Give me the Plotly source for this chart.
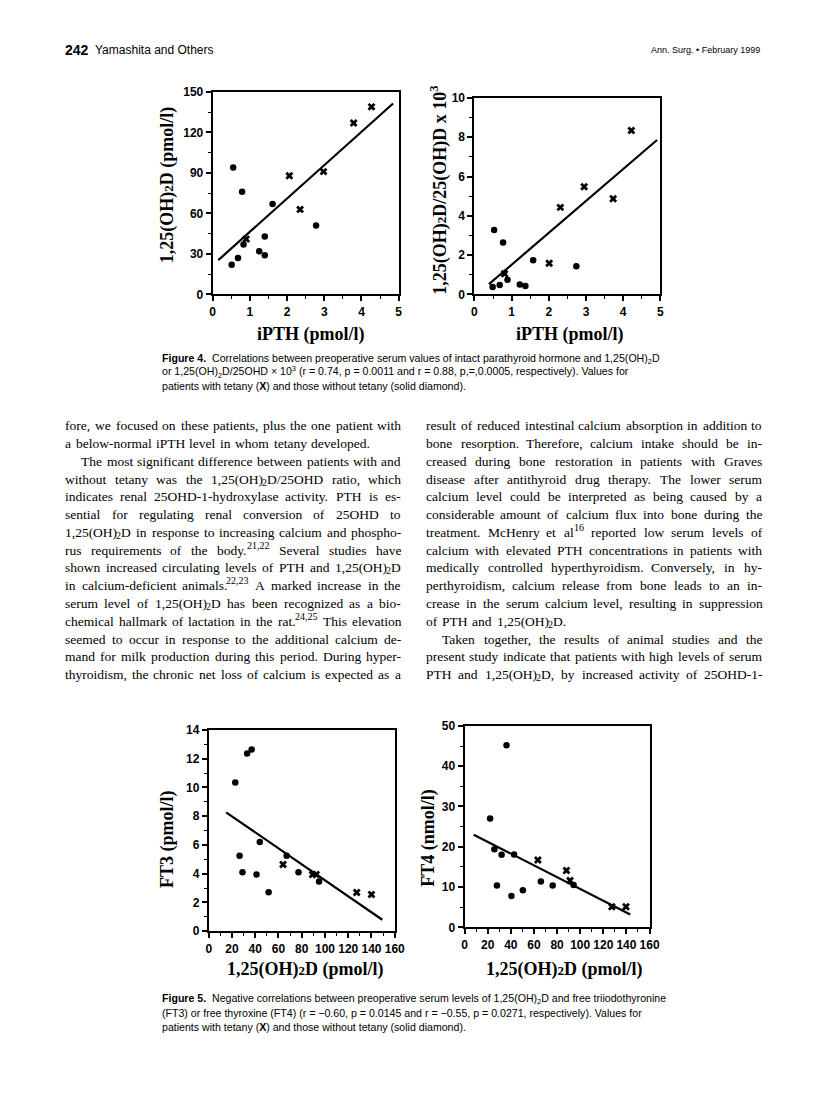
import re
import plotly.graph_objects as go

W, H = 816, 1115
PAGE_OFF = 8  # the html body margin moves the figure by 8px

# ---------------- data ----------------
# Figure 4 left: iPTH (pmol/l) vs 1,25(OH)2D (pmol/l)
f4a_dot_x = [0.51, 0.55, 0.68, 0.79, 0.83, 1.25, 1.40, 1.40, 1.61, 2.78]
f4a_dot_y = [22, 94, 27, 76, 37, 32, 43, 29, 67, 51]
f4a_tet_x = [0.90, 2.06, 2.35, 2.98, 3.79, 4.27]
f4a_tet_y = [41, 88, 63, 91, 127, 139]
f4a_fit_x = [0.15, 4.85]
f4a_fit_y = [25.4, 141.5]

# Figure 4 right: iPTH (pmol/l) vs 1,25(OH)2D/25(OH)D x 10^3
f4b_dot_x = [0.49, 0.53, 0.68, 0.77, 0.89, 1.22, 1.37, 1.58, 2.74]
f4b_dot_y = [0.38, 3.28, 0.48, 2.64, 0.75, 0.50, 0.43, 1.74, 1.44]
f4b_tet_x = [0.81, 2.01, 2.31, 2.95, 3.73, 4.22]
f4b_tet_y = [1.05, 1.59, 4.43, 5.48, 4.87, 8.34]
f4b_fit_x = [0.39, 4.91]
f4b_fit_y = [0.52, 7.86]

# Figure 5 left: 1,25(OH)2D (pmol/l) vs FT3 (pmol/l)
f5a_dot_x = [22.8, 26.5, 29.0, 33.0, 36.9, 41.1, 43.9, 51.5, 67.0, 77.2, 94.9]
f5a_dot_y = [10.34, 5.25, 4.11, 12.35, 12.63, 3.95, 6.21, 2.72, 5.25, 4.11, 3.45]
f5a_tet_x = [63.9, 89.3, 92.4, 127.3, 140.0]
f5a_tet_y = [4.64, 3.95, 3.95, 2.69, 2.56]
f5a_fit_x = [14.9, 149.3]
f5a_fit_y = [8.27, 0.80]

# Figure 5 right: 1,25(OH)2D (pmol/l) vs FT4 (nmol/l)
f5b_dot_x = [22.1, 25.8, 28.0, 32.0, 36.3, 40.5, 42.8, 50.4, 66.0, 76.2, 94.3]
f5b_dot_y = [27.0, 19.4, 10.4, 18.0, 45.2, 7.8, 18.1, 9.2, 11.4, 10.4, 10.5]
f5b_tet_x = [63.4, 88.1, 91.2, 127.4, 139.6]
f5b_tet_y = [16.7, 14.1, 11.6, 5.1, 5.1]
f5b_fit_x = [7.9, 143.3]
f5b_fit_y = [23.0, 3.2]

# ---------------- page text ----------------
header_left_num = "242"
header_left = "Yamashita and Others"
header_right = "Ann. Surg. • February 1999"

cap4 = [
    "<b>Figure 4.</b>  Correlations between preoperative serum values of intact parathyroid hormone and 1,25(OH)<sub>2</sub>D",
    "or 1,25(OH)<sub>2</sub>D/25OHD × 10<sup>3</sup> (r = 0.74, p = 0.0011 and r = 0.88, p,=,0.0005, respectively). Values for",
    "patients with tetany (<b>X</b>) and those without tetany (solid diamond).",
]
cap5 = [
    "<b>Figure 5.</b>  Negative correlations between preoperative serum levels of 1,25(OH)<sub>2</sub>D and free triiodothyronine",
    "(FT3) or free thyroxine (FT4) (r = −0.60, p = 0.0145 and r = −0.55, p = 0.0271, respectively). Values for",
    "patients with tetany (<b>X</b>) and those without tetany (solid diamond).",
]

# (text, justified, indented)
left_col = [
    ("fore, we focused on these patients, plus the one patient with", True, False),
    ("a below-normal iPTH level in whom tetany developed.", False, False),
    ("The most significant difference between patients with and", True, True),
    ("without tetany was the 1,25(OH)<sub>2</sub>D/25OHD ratio, which", True, False),
    ("indicates renal 25OHD-1-hydroxylase activity. PTH is es-", True, False),
    ("sential for regulating renal conversion of 25OHD to", True, False),
    ("1,25(OH)<sub>2</sub>D in response to increasing calcium and phospho-", True, False),
    ("rus requirements of the body.<sup>21,22</sup> Several studies have", True, False),
    ("shown increased circulating levels of PTH and 1,25(OH)<sub>2</sub>D", True, False),
    ("in calcium-deficient animals.<sup>22,23</sup> A marked increase in the", True, False),
    ("serum level of 1,25(OH)<sub>2</sub>D has been recognized as a bio-", True, False),
    ("chemical hallmark of lactation in the rat.<sup>24,25</sup> This elevation", True, False),
    ("seemed to occur in response to the additional calcium de-", True, False),
    ("mand for milk production during this period. During hyper-", True, False),
    ("thyroidism, the chronic net loss of calcium is expected as a", True, False),
]
right_col = [
    ("result of reduced intestinal calcium absorption in addition to", True, False),
    ("bone resorption. Therefore, calcium intake should be in-", True, False),
    ("creased during bone restoration in patients with Graves", True, False),
    ("disease after antithyroid drug therapy. The lower serum", True, False),
    ("calcium level could be interpreted as being caused by a", True, False),
    ("considerable amount of calcium flux into bone during the", True, False),
    ("treatment. McHenry et al<sup>16</sup> reported low serum levels of", True, False),
    ("calcium with elevated PTH concentrations in patients with", True, False),
    ("medically controlled hyperthyroidism. Conversely, in hy-", True, False),
    ("perthyroidism, calcium release from bone leads to an in-", True, False),
    ("crease in the serum calcium level, resulting in suppression", True, False),
    ("of PTH and 1,25(OH)<sub>2</sub>D.", False, False),
    ("Taken together, the results of animal studies and the", True, True),
    ("present study indicate that patients with high levels of serum", True, False),
    ("PTH and 1,25(OH)<sub>2</sub>D, by increased activity of 25OHD-1-", True, False),
]

FW, FH = W - PAGE_OFF, H - PAGE_OFF


def px(x):
    return (x - PAGE_OFF) / FW


def py(y):
    return 1 - (y - PAGE_OFF) / FH


# approximate Times glyph widths (1/1000 em), used to justify the body text
TW = {' ': 250, ',': 250, '.': 250, '-': 333, '(': 333, ')': 333, '/': 278, ':': 278}
TW.update({c: w for c, w in zip("abcdefghijklmnopqrstuvwxyz",
          [444, 500, 444, 500, 444, 333, 500, 500, 278, 278, 500, 278, 778, 500, 500, 500, 500, 333, 389, 278, 500, 500, 722, 500, 500, 444])})
TW.update({c: w for c, w in zip("ABCDEFGHIJKLMNOPQRSTUVWXYZ",
          [722, 667, 667, 722, 611, 556, 722, 722, 333, 389, 722, 611, 889, 722, 722, 556, 722, 667, 556, 611, 722, 722, 944, 722, 722, 611])})

BODY = dict(family="Liberation Serif", size=13.5, color="black")
SMALL = dict(family="Liberation Serif", size=10, color="black")
SANS = dict(family="Liberation Sans", color="black")


def plain_w(s, size):
    return sum(TW.get(c, 500) for c in s) * size / 1000.0


def segments(word):
    # split a word into (text, kind) pieces: kind is "", "sub" or "sup"
    out = []
    for m in re.finditer(r"<(sub|sup)>(.*?)</\1>|([^<]+)", word):
        if m.group(3):
            out.append((m.group(3), ""))
        else:
            out.append((m.group(2), m.group(1)))
    return out


def word_w(word):
    return sum(plain_w(t, SMALL["size"] if k else BODY["size"]) for t, k in segments(word))


annotations = []


def note(x, y, text, font, xanchor="left", angle=0):
    annotations.append(dict(x=px(x), y=py(y), xref="paper", yref="paper", text=text,
                            showarrow=False, xanchor=xanchor, yanchor="middle",
                            font=font, textangle=angle, borderpad=0))


def draw_word(x, y, word):
    for t, k in segments(word):
        if k == "":
            note(x, y, t, BODY)
            x += plain_w(t, BODY["size"])
        else:
            note(x, y + (3 if k == "sub" else -5), t, SMALL)
            x += plain_w(t, SMALL["size"])


def body_line(x0, x1, y, text, justify, indent):
    start = x0 + (16 if indent else 0)
    words = text.split()
    widths = [word_w(w) for w in words]
    if justify and len(words) > 1:
        gap = (x1 - start - sum(widths)) / (len(words) - 1)
    else:
        gap = plain_w(" ", BODY["size"]) * 1.5
    x = start
    for w, ww in zip(words, widths):
        draw_word(x, y, w)
        x += ww + gap


# header
note(62, 43, "<b>" + header_left_num + "</b>", dict(SANS, size=14))
note(92, 43, header_left, dict(SANS, size=12))
note(770, 43, header_right, dict(SANS, size=9), xanchor="right")

# captions
for i, t in enumerate(cap4):
    note(160, 356 + 14 * i, t, dict(SANS, size=10.6))
for i, t in enumerate(cap5):
    note(160, 1005 + 14 * i, t, dict(SANS, size=10.6))

# body columns
for i, (t, j, ind) in enumerate(left_col):
    body_line(62, 403, 424 + 18 * i, t, j, ind)
for i, (t, j, ind) in enumerate(right_col):
    body_line(429, 770, 424 + 18 * i, t, j, ind)

# ---------------- panels ----------------
SUB2 = "<span style='font-size:13px'>2</span>"
panels = [
    dict(box=(213, 86, 402, 291), xr=[0, 5], yr=[0, 150], xd=1, yd=30, xm=0.5, ym=15,
         dots=(f4a_dot_x, f4a_dot_y), tet=(f4a_tet_x, f4a_tet_y), fit=(f4a_fit_x, f4a_fit_y),
         xt="iPTH (pmol/l)", xt_pos=(313, 332), yt="1,25(OH)" + SUB2 + "D (pmol/l)", yt_pos=(167, 180)),
    dict(box=(479, 92, 668, 291), xr=[0, 5], yr=[0, 10], xd=1, yd=2, xm=0.5, ym=1,
         dots=(f4b_dot_x, f4b_dot_y), tet=(f4b_tet_x, f4b_tet_y), fit=(f4b_fit_x, f4b_fit_y),
         xt="iPTH (pmol/l)", xt_pos=(576, 332),
         yt="1,25(OH)" + SUB2 + "D/25(OH)D x 10<sup>3</sup>", yt_pos=(443, 186)),
    dict(box=(209, 732, 398, 936), xr=[0, 160], yr=[0, 14], xd=20, yd=2, xm=10, ym=1,
         dots=(f5a_dot_x, f5a_dot_y), tet=(f5a_tet_x, f5a_tet_y), fit=(f5a_fit_x, f5a_fit_y),
         xt="1,25(OH)" + SUB2 + "D (pmol/l)", xt_pos=(307, 975), yt="FT3 (pmol/l)", yt_pos=(167, 842)),
    dict(box=(469, 728, 657, 932), xr=[0, 160], yr=[0, 50], xd=20, yd=10, xm=10, ym=5,
         dots=(f5b_dot_x, f5b_dot_y), tet=(f5b_tet_x, f5b_tet_y), fit=(f5b_fit_x, f5b_fit_y),
         xt="1,25(OH)" + SUB2 + "D (pmol/l)", xt_pos=(571, 975), yt="FT4 (nmol/l)", yt_pos=(432, 841)),
]

TITLE = dict(family="Liberation Serif", size=18, color="black", weight="bold")
TICK = dict(family="Liberation Sans", size=12, color="black", weight="bold")

fig = go.Figure()
layout_axes = {}
for k, p in enumerate(panels, start=1):
    xa = "x" if k == 1 else "x%d" % k
    ya = "y" if k == 1 else "y%d" % k
    x0, y0, x1, y1 = p["box"]
    common = dict(showline=True, linecolor="black", linewidth=2, mirror=True,
                  ticks="outside", ticklen=5, tickwidth=1.5, tickcolor="black",
                  showgrid=False, zeroline=False, tickfont=TICK, fixedrange=True)
    layout_axes["xaxis" if k == 1 else "xaxis%d" % k] = dict(
        common, domain=[px(x0), px(x1)], range=p["xr"], dtick=p["xd"], tick0=0, anchor=ya,
        minor=dict(ticks="outside", ticklen=3, tickwidth=1.2, tickcolor="black", dtick=p["xm"], showgrid=False))
    layout_axes["yaxis" if k == 1 else "yaxis%d" % k] = dict(
        common, domain=[py(y1), py(y0)], range=p["yr"], dtick=p["yd"], tick0=0, anchor=xa,
        minor=dict(ticks="outside", ticklen=3, tickwidth=1.2, tickcolor="black", dtick=p["ym"], showgrid=False))

    fig.add_trace(go.Scatter(x=p["fit"][0], y=p["fit"][1], mode="lines",
                             line=dict(color="black", width=2.2), xaxis=xa, yaxis=ya, showlegend=False))
    fig.add_trace(go.Scatter(x=p["dots"][0], y=p["dots"][1], mode="markers",
                             marker=dict(symbol="circle", size=6.5, color="black"),
                             xaxis=xa, yaxis=ya, showlegend=False, cliponaxis=False))
    fig.add_trace(go.Scatter(x=p["tet"][0], y=p["tet"][1], mode="markers",
                             marker=dict(symbol="x", size=7, color="black"),
                             xaxis=xa, yaxis=ya, showlegend=False, cliponaxis=False))

    note(p["xt_pos"][0], p["xt_pos"][1], p["xt"], TITLE, xanchor="center")
    note(p["yt_pos"][0], p["yt_pos"][1], p["yt"], TITLE, xanchor="center", angle=-90)

fig.update_layout(
    width=FW, height=FH,
    margin=dict(l=0, r=0, t=0, b=0),
    paper_bgcolor="white", plot_bgcolor="white",
    annotations=annotations,
    **layout_axes,
)

fig.write_html("out.html")
